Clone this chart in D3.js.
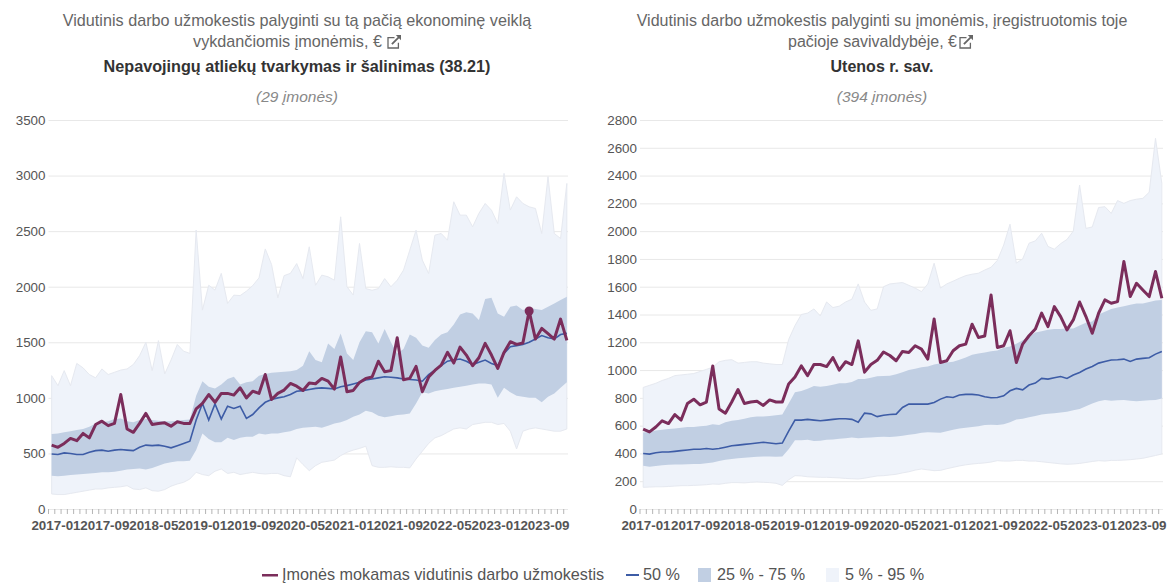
<!DOCTYPE html>
<html>
<head>
<meta charset="utf-8">
<script src="https://cdnjs.cloudflare.com/ajax/libs/d3/7.8.5/d3.min.js"></script>
<style>
  html, body { margin: 0; padding: 0; background: #fff; }
  svg { display: block; font-family: "Liberation Sans", Arial, sans-serif; }
  .axis path { display: none; }
</style>
</head>
<body>
<div id="chart"></div>
<script>
const years = [2017, 2018, 2019, 2020, 2021, 2022, 2023];
const labelMonths = ['2017-01', '2017-09', '2018-05', '2019-01', '2019-09', '2020-05', '2021-01', '2021-09', '2022-05', '2023-01', '2023-09'];
// 2017-01 ... 2023-11
const months = years.flatMap(y => d3.range(1, 13).map(m => `${y}-${String(m).padStart(2, '0')}`)).slice(0, 83);

const company = [
  575, 555, 590, 635, 615, 680, 640, 760, 790, 750,
  770, 1030, 720, 690, 770, 860, 760, 770, 775, 745,
  785, 770, 770, 900, 950, 1030, 960, 1040, 1040, 1025,
  1090, 1000, 1060, 1040, 1210, 985, 1040, 1070, 1130, 1105,
  1067, 1134, 1127, 1175, 1151, 1079, 1367, 1055, 1067, 1139,
  1175, 1187, 1330, 1235, 1245, 1540, 1163, 1175, 1283, 1055,
  1187, 1247, 1295, 1410, 1313, 1457, 1385, 1289, 1361, 1490,
  1385, 1265, 1409, 1505, 1481, 1493, 1781, 1529, 1625, 1577,
  1529, 1709, 1517
];

// kairė: ta pati ekonominė veikla
const sectorP5 = [
  135, 130, 130, 140, 150, 160, 170, 180, 180, 190,
  195, 200, 210, 180, 175, 190, 165, 160, 175, 205,
  225, 240, 270, 330, 310, 300, 340, 360, 320, 330,
  310, 320, 330, 320, 315, 320, 320, 300, 290, 460,
  400, 345, 390, 420, 430, 440, 480, 510, 530, 545,
  565, 390, 375, 375, 380, 375, 375, 370, 450, 520,
  590, 640, 660, 690, 720, 730, 720, 760, 770, 780,
  780, 760, 770, 700, 540, 700, 720, 730, 720, 710,
  700, 700, 720
];
const sectorP25 = [
  300, 295, 300, 305, 310, 315, 320, 325, 330, 330,
  335, 345, 355, 360, 365, 355, 370, 390, 410, 420,
  430, 430, 435, 530, 680, 630, 600, 600, 640, 620,
  640, 650, 650, 680, 670, 680, 680, 690, 700, 720,
  730, 735, 740, 730, 750, 770, 780, 800, 830, 850,
  885, 870, 840, 825, 835, 845, 850, 860, 950, 1050,
  1040, 1060, 1070, 1080, 1090, 1100, 1110, 1120, 1130, 1130,
  1120, 1000, 1090, 1050, 1020, 1010, 1000, 1000, 960, 1010,
  1040, 1090, 1140
];
const sectorP50 = [
  495, 490, 505, 500, 490, 490, 510, 525, 530, 520,
  530, 535, 530, 525, 555, 575, 570, 575, 565, 550,
  570, 590, 610, 800, 950, 800, 945, 810, 925, 905,
  925, 815, 850, 910, 960, 985, 1000, 1010, 1030, 1060,
  1065, 1075, 1085, 1090, 1085, 1080, 1100, 1110, 1125, 1140,
  1160, 1170, 1180, 1190, 1185, 1180, 1170, 1165, 1160, 1150,
  1210, 1250, 1290, 1330, 1340, 1350, 1330, 1300, 1320, 1340,
  1310, 1290, 1400, 1460, 1470, 1480, 1500, 1530, 1560, 1540,
  1530, 1570, 1580
];
const sectorP75 = [
  675, 680, 690, 700, 710, 720, 740, 770, 780, 790,
  810, 815, 790, 780, 800, 810, 800, 795, 790, 790,
  795, 800, 805, 1020, 1150, 1100, 1085, 1120, 1170, 1190,
  1120, 1140, 1150, 1200, 1215, 1225, 1230, 1235, 1240, 1250,
  1290, 1420, 1340, 1320, 1490, 1440, 1580, 1400, 1340, 1500,
  1600, 1590, 1490, 1620, 1500, 1400, 1440, 1570, 1540, 1470,
  1450, 1520, 1570, 1590, 1660, 1750, 1770, 1760, 1700, 1890,
  1900, 1760, 1730, 1820, 1830, 1790, 1810, 1800, 1790, 1820,
  1850, 1880, 1910
];
const sectorP95 = [
  1200, 1110, 1245, 1110, 1310, 1270, 1210, 1180, 1260, 1210,
  1230, 1250, 1260, 1300, 1380, 1500, 1245, 1515, 1216, 1340,
  1480, 1420, 1400, 2510, 1790, 2013, 1970, 2120, 1850, 1924,
  1920, 1960, 2010, 2080, 2340, 2200, 1900, 2100, 2120, 2208,
  2073, 2359, 2013, 2104, 2089, 2059, 2629, 2000, 1925, 2389,
  1983, 1968, 1983, 2073, 2000, 2059, 2149, 2329, 2509, 2239,
  2119, 2464, 2479, 2419, 2764, 2644, 2644, 2539, 2660, 2749,
  2689, 2569, 3020, 2690, 2809, 2749, 2719, 2704, 2479, 2990,
  2479, 2434, 2929
];

// dešinė: ta pati savivaldybė
const cityP5 = [
  156, 158, 160, 160, 162, 165, 168, 168, 170, 172,
  175, 180, 178, 185, 190, 190, 188, 192, 195, 192,
  190, 185, 170, 210, 240, 238, 232, 230, 228, 228,
  226, 224, 220, 218, 216, 222, 230, 238, 240, 245,
  250, 260, 268, 280, 288, 282, 276, 278, 290, 300,
  310, 318, 324, 328, 332, 338, 348, 345, 345, 350,
  350, 345, 345, 340, 335, 330, 325, 322, 324, 328,
  335, 342, 348, 345, 350, 350, 352, 355, 360, 365,
  375, 385, 396
];
const cityP25 = [
  312, 305, 310, 315, 318, 320, 320, 322, 324, 324,
  330, 335, 345, 355, 360, 365, 368, 372, 376, 378,
  378, 376, 378, 430, 495, 495, 498, 490, 492, 498,
  500, 505, 510, 515, 510, 512, 515, 518, 520, 518,
  522, 528, 535, 540, 548, 552, 550, 548, 560, 570,
  580, 585, 590, 595, 604, 606, 604, 610, 625, 645,
  650, 660, 670, 680, 685, 690, 695, 700, 710, 720,
  740, 760, 775, 785, 780, 782, 785, 780, 775, 780,
  782, 785, 795
];
const cityP50 = [
  400, 395, 405, 410, 410, 415, 420, 425, 430, 430,
  435, 430, 435, 445, 455, 460, 465, 470, 475, 480,
  475, 470, 475, 560, 640, 640, 645, 640, 635, 640,
  645, 650, 650, 645, 625, 690, 685, 665, 675, 680,
  683, 731, 755, 755, 755, 755, 767, 791, 808, 803,
  820, 825, 825, 820, 808, 801, 803, 815, 851, 868,
  858, 892, 906, 940, 935, 945, 954, 940, 964, 983,
  1007, 1026, 1050, 1062, 1072, 1074, 1079, 1062, 1079, 1084,
  1089, 1115, 1134
];
const cityP75 = [
  550, 555, 565, 570, 575, 580, 585, 590, 590, 595,
  600, 610, 605, 625, 635, 640, 650, 660, 665, 665,
  670, 675, 680, 760, 840, 850, 865, 885, 880, 885,
  895, 905, 905, 915, 935, 935, 945, 955, 958, 960,
  970, 985, 1000, 1010, 1020, 1025, 1040, 1050, 1055, 1060,
  1075, 1090, 1110, 1120, 1127, 1135, 1140, 1160, 1170, 1190,
  1215, 1240, 1270, 1280, 1290, 1295, 1295, 1300, 1300, 1320,
  1340, 1350, 1400, 1420, 1440, 1450, 1460, 1470, 1480, 1480,
  1490, 1500, 1505
];
const cityP95 = [
  875, 890, 905, 925, 940, 960, 965, 970, 975, 990,
  1005, 1020, 1060, 1070, 1075, 1050, 1055, 1060, 1060, 1050,
  1045, 1040, 1040, 1220, 1320, 1400, 1410, 1440, 1390, 1490,
  1450, 1460, 1490, 1510, 1620, 1490, 1430, 1440, 1600, 1620,
  1625, 1630, 1610, 1590, 1565, 1620, 1769, 1590, 1620, 1640,
  1661, 1680, 1690, 1697, 1720, 1740, 1790, 1900, 2050, 1770,
  1800, 1913, 1930, 1985, 1890, 1870, 1910, 1940, 2000, 2332,
  2020, 2030, 2170, 2176, 2128, 2220, 2200, 2220, 2230, 2236,
  2280, 2668, 2344
];

const sectorTicks = [0, 500, 1000, 1500, 2000, 2500, 3000, 3500];
const cityTicks = [0, 200, 400, 600, 800, 1000, 1200, 1400, 1600, 1800, 2000, 2200, 2400, 2600, 2800];
const legendNames = ['Įmonės mokamas vidutinis darbo užmokestis', '50 %', '25 % - 75 %', '5 % - 95 %'];

const colors = {
  company: '#7b2d5b',
  median: '#3d5ca6',
  inner: '#c1cfe3',
  outer: '#eff3fa',
  outerEdge: '#e6e9f0',
  grid: '#e8e8e8',
  tick: '#b5b5b5',
  label: '#555',
};

const svg = d3.select('#chart').append('svg').attr('width', 1172).attr('height', 583);

// išorinės nuorodos ikonėlė
function linkIcon(g, x, y) {
  const icon = g.append('g')
    .attr('transform', `translate(${x},${y}) scale(1.3)`)
    .attr('fill', 'none')
    .attr('stroke', '#666')
    .attr('stroke-width', 1);
  icon.append('path').attr('d', 'M8 6v4H0V2h5');
  icon.append('path').attr('d', 'M3 7L9 1').attr('stroke-width', 1.4);
  icon.append('path').attr('d', 'M6 0h4v4z').attr('fill', '#666').attr('stroke', 'none');
}

function drawPanel(o) {
  const g = svg.append('g');
  const x = d3.scaleBand().domain(months).range([o.left, o.right]);
  const px = m => x(m) + x.bandwidth() / 2;
  const y = d3.scaleLinear().domain([0, o.max]).range([o.bottom, o.top]);
  const labelX = d3.scalePoint().domain(labelMonths).range(o.labelRange);

  // antraštės
  g.append('text').attr('x', o.titleX).attr('y', 26)
    .attr('text-anchor', 'middle').attr('font-size', o.titleSize).attr('fill', '#666').text(o.title[0]);
  g.append('text').attr('x', o.titleX - 9.5).attr('y', 47)
    .attr('text-anchor', 'middle').attr('font-size', o.titleSize).attr('fill', '#666').text(o.title[1]);
  g.append('text').attr('x', o.titleX).attr('y', 72)
    .attr('text-anchor', 'middle').attr('font-size', o.titleSize).attr('font-weight', 'bold').attr('fill', '#333').text(o.subtitle);
  g.append('text').attr('x', o.titleX).attr('y', 102)
    .attr('text-anchor', 'middle').attr('font-size', 15.5).attr('font-style', 'italic').attr('fill', '#888').text(o.count);
  linkIcon(g, o.iconX, 35);

  // y ašis
  const yAxis = g.append('g').attr('class', 'axis')
    .attr('transform', `translate(${o.left},0)`)
    .call(d3.axisLeft(y).tickValues(o.ticks).tickSize(-(o.right - o.left - 2)).tickPadding(3).tickFormat(d3.format('d')));
  yAxis.selectAll('line').attr('stroke', colors.grid);
  yAxis.selectAll('text').attr('font-size', 13.4).attr('font-family', '"Liberation Sans", Arial, sans-serif').attr('fill', colors.label);

  // x ašis
  const xAxis = g.append('g').attr('class', 'axis')
    .attr('transform', `translate(0,${o.bottom})`)
    .call(d3.axisBottom(x).tickSize(5).tickFormat(''));
  xAxis.selectAll('line').attr('stroke', colors.tick)
    .attr('x1', -x.bandwidth() / 2).attr('x2', -x.bandwidth() / 2);
  g.selectAll('.month-label').data(labelMonths).join('text')
    .attr('class', 'month-label')
    .attr('x', d => labelX(d)).attr('y', o.bottom + 21)
    .attr('text-anchor', 'middle').attr('font-size', 13.4).attr('font-weight', 'bold')
    .attr('fill', colors.label).text(d => d);

  const band = (lo, hi) => d3.area()
    .x(d => px(d))
    .y0((d, i) => y(lo[i]))
    .y1((d, i) => y(hi[i]));
  const line = v => d3.line().x(d => px(d)).y((d, i) => y(v[i]));

  g.append('path').datum(months).attr('d', band(o.p5, o.p95))
    .attr('fill', colors.outer).attr('stroke', colors.outerEdge).attr('stroke-width', 1);
  g.append('path').datum(months).attr('d', band(o.p25, o.p75)).attr('fill', colors.inner);
  g.append('path').datum(months).attr('d', line(o.p50))
    .attr('fill', 'none').attr('stroke', colors.median).attr('stroke-width', 1.6);
  g.append('path').datum(months).attr('d', line(company))
    .attr('fill', 'none').attr('stroke', colors.company).attr('stroke-width', 3).attr('stroke-linejoin', 'round');

  if (o.markerMonth) {
    g.append('circle')
      .attr('cx', px(o.markerMonth))
      .attr('cy', y(company[months.indexOf(o.markerMonth)]))
      .attr('r', 4.5).attr('fill', colors.company);
  }
}

drawPanel({
  left: 48.5, right: 570, top: 120, bottom: 509, max: 3500,
  ticks: sectorTicks, labelRange: [56, 545], titleSize: 16.2,
  p5: sectorP5, p25: sectorP25, p50: sectorP50, p75: sectorP75, p95: sectorP95,
  titleX: 297, iconX: 388,
  title: ['Vidutinis darbo užmokestis palyginti su tą pačią ekonominę veiklą', 'vykdančiomis įmonėmis, €'],
  subtitle: 'Nepavojingų atliekų tvarkymas ir šalinimas (38.21)',
  count: '(29 įmonės)',
  markerMonth: '2023-05',
});

drawPanel({
  left: 640, right: 1165, top: 120, bottom: 509, max: 2800,
  ticks: cityTicks, labelRange: [646, 1142], titleSize: 16,
  p5: cityP5, p25: cityP25, p50: cityP50, p75: cityP75, p95: cityP95,
  titleX: 882, iconX: 960,
  title: ['Vidutinis darbo užmokestis palyginti su įmonėmis, įregistruotomis toje', 'pačioje savivaldybėje, €'],
  subtitle: 'Utenos r. sav.',
  count: '(394 įmonės)',
});

// legenda
const legend = svg.append('g').attr('font-size', 16.2).attr('fill', colors.label);
const legendY = 580;
const legendX = [282, 643, 717, 845];
legend.append('rect').attr('x', 262).attr('y', legendY - 6).attr('width', 16).attr('height', 2.5).attr('fill', colors.company);
legend.append('rect').attr('x', 626).attr('y', legendY - 6).attr('width', 13).attr('height', 2).attr('fill', colors.median);
legend.append('rect').attr('x', 698).attr('y', legendY - 12).attr('width', 13).attr('height', 14).attr('fill', colors.inner);
legend.append('rect').attr('x', 826).attr('y', legendY - 12).attr('width', 13).attr('height', 14).attr('fill', colors.outer);
legendNames.forEach((n, i) => {
  legend.append('text').attr('x', legendX[i]).attr('y', legendY).text(n);
});
</script>
</body>
</html>
